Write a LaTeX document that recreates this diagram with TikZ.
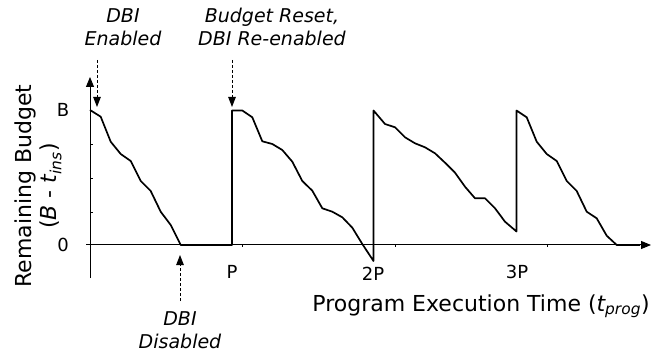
\documentclass[tikz,border=0pt]{standalone}
\usepackage{fontspec}
\setmainfont{DejaVu Sans}
\usetikzlibrary{arrows.meta}
\tikzset{
	axis/.style={line width=1pt, -{Triangle[length=10pt,width=8pt]}},
	budget/.style={line width=1.7pt, line join=round},
	hint/.style={line width=1pt, dash pattern=on 3pt off 2pt, -{Triangle[length=10pt,width=7.5pt]}},
	tick/.style={font=\fontsize{18}{21}\selectfont},
	note/.style={font=\fontsize{19}{23}\selectfont\itshape, align=center},
	title/.style={font=\fontsize{22}{25.5}\selectfont, align=center},
}
\begin{document}
\begin{tikzpicture}[x=1pt, y=-1pt]
	\useasboundingbox (0,0) rectangle (660,352);
	% axes
	\draw[axis] (90,278) -- (90,77);
	\draw[axis] (86,245) -- (651,245);
	\foreach \y in {144,178,212} \draw (90,\y) -- ++(3,0);
	\foreach \x in {242,395,547} \draw (\x,245) -- ++(0,2);
	% tick labels
	\node[tick] (lblB)  at (63,110)  {B};
	\node[tick] (lbl0)  at (63,245)  {0};
	\node[tick] (lblP)  at (232,272) {P};
	\node[tick] (lbl2P) at (373,274) {2P};
	\node[tick] (lbl3P) at (517,272) {3P};
	% axis titles
	\node[title, rotate=90] (ytitle) at (38,186) {Remaining Budget\\({\itshape B} - {\itshape t}\textsubscript{\itshape ins})};
	\node[title] (xtitle) at (481,306) {Program Execution Time ({\itshape t}\textsubscript{\itshape prog})};
	% remaining budget
	\draw[budget] (90,110) -- (100.7,116.7) -- (110.7,141.7) -- (120.7,154) -- (130.7,161)
		-- (140.7,181) -- (150.7,191) -- (160.7,211.7) -- (170.7,225) -- (180.7,245)
		-- (232,245) -- (232,110.5) -- (242.3,110.5) -- (252.3,117.3) -- (262.3,141.3)
		-- (272.3,144) -- (282.3,150) -- (292.3,161.7) -- (302.3,181) -- (312.3,190.7)
		-- (322.3,208.3) -- (332.3,211.7) -- (342.3,217.3) -- (352.3,227.7) -- (362.3,244)
		-- (373.5,261) -- (373.5,110.5) -- (385,124) -- (395,127.3) -- (405,137.3)
		-- (415,143.3) -- (425,147.3) -- (435,153.3) -- (445,162.7) -- (455,172.7)
		-- (465,186.7) -- (475,198.3) -- (485,198.3) -- (495,208.3) -- (505,221.7)
		-- (516.5,231.5) -- (516.5,110.5) -- (526.7,117.3) -- (536.7,141.7) -- (546.7,154)
		-- (556.7,161) -- (566.7,181) -- (576.7,191) -- (586.7,211.7) -- (596.7,218.3)
		-- (606.7,235.7) -- (616.7,245) -- (640,245);
	% events
	\node[note] (enabled)  at (123,27)  {DBI\\Enabled};
	\node[note] (reset)    at (272,27)  {Budget Reset,\\DBI Re-enabled};
	\node[note] (disabled) at (180,330) {DBI\\Disabled};
	\coordinate (enTail)  at (97,60);
	\coordinate (enTip)   at (97,107);
	\coordinate (reTail)  at (232,60);
	\coordinate (reTip)   at (232,107);
	\coordinate (disTail) at (180,301);
	\coordinate (disTip)  at (180,255);
	\draw[hint] (enTail) -- (enTip);
	\draw[hint] (reTail) -- (reTip);
	\draw[hint] (disTail) -- (disTip);
\end{tikzpicture}
\end{document}
